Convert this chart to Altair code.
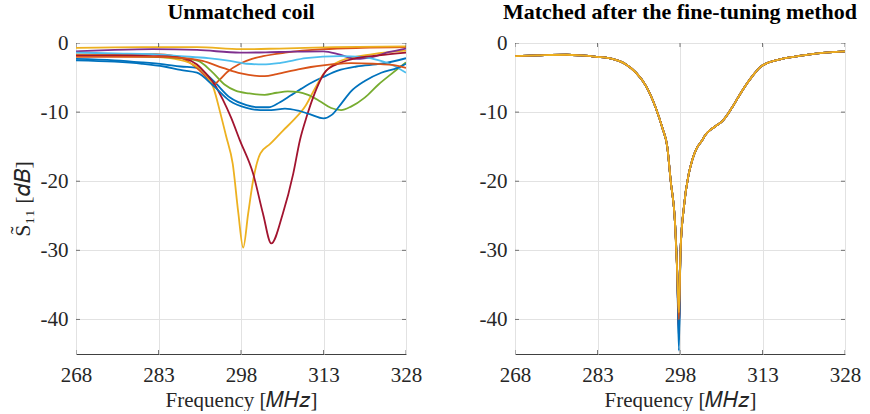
import altair as alt
import pandas as pd

# ---------------- axes / ticks ----------------
x_ticks = [268, 283, 298, 313, 328]
y_ticks = [0, -10, -20, -30, -40]
x_domain = [268, 328]
y_domain = [-45, 0]

series_names = ["c0", "c1", "c2", "c3", "c4", "c5", "c6", "c7", "c8", "c9"]
series_colors = ["#0072BD", "#D95319", "#EDB120", "#7E2F8E", "#77AC30",
                 "#4DBEEE", "#A2142F", "#0072BD", "#D95319", "#EDB120"]

# ---------------- left panel: unmatched coil ----------------
blueA_f = [268, 275, 280, 284, 287, 290, 293, 296, 299, 301, 303, 305, 307, 309, 311.4, 313, 315.6, 319, 323.5, 328]
blueA_db = [-2.3, -2.5, -2.8, -3.1, -3.4, -3.6, -5.5, -7.9, -9.0, -9.3, -9.3, -8.6, -7.6, -6.6, -5.5, -4.9, -4.0, -3.4, -3.0, -2.2]

orangeA_f = [268, 275, 282.5, 286, 288, 290.5, 292, 293, 294, 295.5, 297.8, 300, 302, 306, 313, 320, 328]
orangeA_db = [-1.7, -1.6, -1.6, -1.9, -2.5, -4.0, -5.2, -6.0, -5.4, -4.2, -3.0, -2.3, -1.9, -1.4, -0.9, -0.7, -0.6]

yellowA_f = [268, 275, 282, 286, 289, 291.6, 293, 294.2, 295.3, 296.5, 297.5, 298.4, 299.3, 300.2, 301.5, 303.3, 305.6, 307.5, 309.8, 311.5, 313, 316, 322, 328]
yellowA_db = [-1.7, -1.8, -2.0, -2.3, -3.0, -4.5, -6.5, -10.0, -13.5, -17.5, -24.5, -29.6, -24.7, -19.9, -16.0, -14.6, -12.7, -11.2, -9.0, -6.5, -4.5, -2.6, -1.6, -1.1]

purple_f = [268, 275, 282, 290, 297.8, 305, 313, 316, 319, 322, 325, 328]
purple_db = [-1.2, -1.0, -0.9, -1.0, -1.4, -1.3, -1.2, -1.7, -2.3, -2.0, -1.3, -0.8]

green_f = [268, 275, 282, 287, 290.2, 292.5, 295, 297, 299.5, 302.3, 304.5, 306.5, 308.5, 310.2, 312.5, 314.4, 316.2, 318, 320.5, 323, 325.3, 328]
green_db = [-1.9, -1.9, -2.0, -2.2, -2.6, -4.0, -6.0, -6.9, -7.3, -7.5, -7.2, -7.0, -7.1, -7.5, -8.5, -9.4, -9.7, -9.2, -7.9, -6.0, -4.5, -2.8]

lightblue_f = [268, 275, 282, 287, 292, 296, 299, 302, 305, 309.8, 316, 320, 322, 325, 328]
lightblue_db = [-1.4, -1.5, -1.6, -1.9, -2.2, -2.6, -3.0, -3.1, -2.9, -2.2, -1.9, -2.0, -2.3, -3.0, -4.3]

darkred_f = [268, 275, 282, 285.6, 288, 290, 291.6, 293.2, 294.7, 296.2, 297.8, 300.2, 302, 303.5, 305.6, 307.5, 308.7, 310, 311.1, 313.5, 316, 318.9, 323, 328]
darkred_db = [-1.8, -1.8, -1.9, -2.0, -2.3, -3.1, -4.4, -6.0, -8.2, -10.8, -14.1, -18.9, -24.7, -29.0, -24.7, -18.9, -14.1, -10.5, -7.9, -4.0, -2.9, -2.2, -1.8, -1.4]

blueB_f = [268, 275, 280, 284, 287, 290, 293, 296, 299, 301.5, 303.5, 306, 308.4, 310.5, 313, 314.5, 316.2, 318, 320.5, 323.5, 326.5, 328]
blueB_db = [-2.5, -2.7, -3.0, -3.4, -3.9, -4.3, -6.2, -8.4, -9.4, -9.7, -9.7, -9.5, -9.8, -10.3, -10.9, -10.4, -8.8, -7.0, -5.5, -4.3, -3.6, -3.0]

orangeB_f = [268, 275, 282, 287.5, 291, 294.7, 298, 302.3, 304.5, 308.4, 314.4, 318, 322, 326.5, 328]
orangeB_db = [-2.0, -2.0, -2.0, -2.2, -2.6, -3.6, -4.4, -4.8, -4.5, -3.8, -3.1, -2.9, -3.0, -3.3, -3.6]

yellowB_f = [268, 280, 290, 298, 305, 315, 328]
yellowB_db = [-0.7, -0.6, -0.6, -0.9, -0.8, -0.6, -0.5]

left_curves = [
    ("c0", blueA_f, blueA_db), ("c1", orangeA_f, orangeA_db), ("c2", yellowA_f, yellowA_db),
    ("c3", purple_f, purple_db), ("c4", green_f, green_db), ("c5", lightblue_f, lightblue_db),
    ("c6", darkred_f, darkred_db), ("c7", blueB_f, blueB_db), ("c8", orangeB_f, orangeB_db),
    ("c9", yellowB_f, yellowB_db),
]

# ---------------- right panel: matched after fine-tuning ----------------
matched_f = [268, 272, 277.4, 280, 282.8, 285.7, 288.2, 290, 291.8, 293.6, 294.8, 295.7, 296.3, 297.1, 297.5,
             297.8, 298.1, 298.7, 299.6, 300.2, 301, 302, 302.7, 304.5, 305.7, 307.5, 309, 310.5, 312.9, 316.5, 319.5, 323, 328]
matched_db = [-1.9, -1.8, -1.7, -1.8, -2.0, -2.3, -3.1, -4.3, -6.2, -9.4, -12.3, -15.1, -19.9, -26.1, -33.3,
              None, -30.0, -23.8, -18.9, -17.0, -15.3, -14.1, -13.2, -12.0, -11.3, -9.3, -7.3, -5.5, -3.3, -2.3, -1.9, -1.5, -1.2]
matched_min = [-44.5, -41.5, -40.5, -42.0, -41.0, -40.5, -41.5, -43.0, -40.0, -39.0]

rows_l = []
for name, fs, dbs in left_curves:
    for f, d in zip(fs, dbs):
        rows_l.append({"f": f, "db": d, "s": name})
df_left = pd.DataFrame(rows_l)

rows_r = []
for name, mn in zip(series_names, matched_min):
    for f, d in zip(matched_f, matched_db):
        rows_r.append({"f": f, "db": mn if d is None else d, "s": name})
df_right = pd.DataFrame(rows_r)

xt = pd.DataFrame({"f": x_ticks})
yt = pd.DataFrame({"db": y_ticks})

FONT = "Liberation Serif, Times New Roman, serif"
FRAME = "#404040"
TXT = "#262626"


def panel(df, title, ytitle):
    y_axis = alt.Axis(values=y_ticks, labelExpr="datum.value", labelPadding=8,
                      grid=True, titlePadding=6, domain=False, ticks=False,
                      labelFont=FONT, labelFontSize=21, labelColor=TXT,
                      titleFont=FONT, titleFontSize=22, titleFontWeight="normal", titleColor=TXT,
                      gridColor="#e2e2e2", gridWidth=1)
    x_axis = alt.Axis(values=x_ticks, labelFlush=False, labelPadding=10,
                      titlePadding=4, grid=True, domain=False, ticks=False,
                      labelFont=FONT, labelFontSize=21, labelColor=TXT,
                      titleFont=FONT, titleFontSize=21, titleFontWeight="normal", titleColor=TXT,
                      gridColor="#e2e2e2", gridWidth=1)
    y_enc = alt.Y("db:Q", scale=alt.Scale(domain=y_domain, nice=False, zero=False),
                  axis=y_axis, title=ytitle)
    x_enc = alt.X("f:Q", scale=alt.Scale(domain=x_domain, nice=False, zero=False),
                  axis=x_axis, title="Frequency [𝑀𝐻𝑧]")
    lines = alt.Chart(df).mark_line(interpolate="monotone", strokeWidth=1.8, clip=True).encode(
        x=x_enc, y=y_enc,
        color=alt.Color("s:N", scale=alt.Scale(domain=series_names, range=series_colors), legend=None),
        order=alt.Order("f:Q"),
    )
    tb = alt.Chart(xt).mark_tick(orient="vertical", size=8, thickness=1, color=FRAME, clip=True).encode(
        x="f:Q", y=alt.datum(-45))
    tt = alt.Chart(xt).mark_tick(orient="vertical", size=8, thickness=1, color=FRAME, clip=True).encode(
        x="f:Q", y=alt.datum(0))
    tl = alt.Chart(yt).mark_tick(orient="horizontal", size=8, thickness=1, color=FRAME, clip=True).encode(
        y="db:Q", x=alt.datum(268))
    tr = alt.Chart(yt).mark_tick(orient="horizontal", size=8, thickness=1, color=FRAME, clip=True).encode(
        y="db:Q", x=alt.datum(328))
    return alt.layer(lines, tb, tt, tl, tr).properties(
        width=330, height=311,
        title=alt.TitleParams(title, font=FONT, fontSize=22, fontWeight="bold", color="#000000", offset=8),
    )


left = panel(df_left, "Unmatched coil", "S\u0303\u2081\u2081 [𝑑𝐵]")
right = panel(df_right, "Matched after the fine-tuning method", None)

chart = alt.hconcat(left, right, spacing=55).properties(
    padding={"left": 10, "top": 0, "right": 4, "bottom": 0}
).configure_view(stroke=FRAME, strokeWidth=1).configure_text(font=FONT)

chart.save("out.html", embed_options={"renderer": "svg", "actions": False})
